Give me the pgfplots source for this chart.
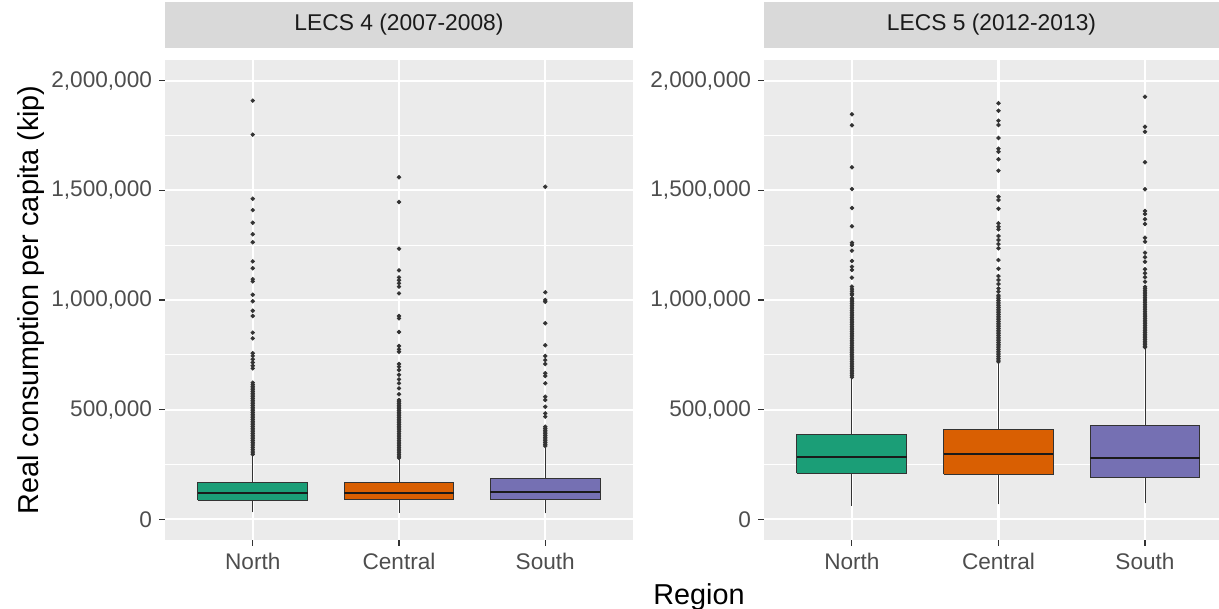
\documentclass[border=0pt]{standalone}
\usepackage{pgfplots}
\pgfplotsset{compat=1.18}
\usepackage{fontspec}
\setmainfont{Liberation Sans}

\definecolor{panelgray}{HTML}{EBEBEB}
\definecolor{stripgray}{HTML}{D9D9D9}
\definecolor{grey10}{HTML}{1A1A1A}
\definecolor{grey20}{HTML}{333333}
\definecolor{grey30}{HTML}{4D4D4D}
\definecolor{dgreen}{HTML}{1B9E77}
\definecolor{dorange}{HTML}{D95F02}
\definecolor{dpurple}{HTML}{7570B3}

% values are in thousands of kip; boxes are 0.75 wide around 1, 2, 3
\pgfplotsset{
  facet/.style={
    scale only axis,
    height=240pt,
    ymin=-94.4, ymax=2094.4,
    xmin=0.4,
    xtick={1,2,3},
    xticklabels={North,Central,South},
    ytick={0,500,1000,1500,2000},
    yticklabels={0,{500,000},{1,000,000},{1,500,000},{2,000,000}},
    minor ytick={250,750,1250,1750},
    ticklabel style={font=\fontsize{11.3}{13}\selectfont, text=grey30},
    axis background/.style={fill=panelgray},
    axis line style={draw=none},
    tickpos=left,
    tick align=outside,
    major tick length=3pt,
    minor tick style={draw=none},
    major tick style={draw=grey20, line width=0.55pt},
    xmajorgrids, ymajorgrids, yminorgrids,
    major grid style={white, line width=1.1pt},
    minor grid style={white, line width=0.55pt},
    title style={at={(0.5,1)}, anchor=south, yshift=0pt, fill=stripgray,
      minimum height=23pt, inner sep=0pt, text=grey10,
      font=\fontsize{11.4}{13}\selectfont},
  },
  box/.style={draw=grey20, line width=0.5pt, fill=#1, mark=none},
  whisk/.style={draw=grey20, line width=0.5pt, mark=none},
  med/.style={draw=grey10, line width=1.1pt, mark=none},
  outl/.style={only marks, mark=*, mark size=0.95pt,
    mark options={draw=grey20, fill=grey20, line width=0.3pt}},
}

\begin{document}
\begin{tikzpicture}
\path[use as bounding box] (0,0) rectangle (609.5pt,304.5pt);

% ---------------- LECS 4 ----------------
\begin{axis}[facet, at={(82.5pt,34.5pt)}, anchor=south west,
  width=234pt, xmax=3.6,
  title={LECS 4 (2007-2008)}, title style={minimum width=234pt}]

% North
\addplot[whisk] coordinates {(1,31.9) (1,86.6)};
\addplot[whisk] coordinates {(1,170.0) (1,293.2)};
\addplot[box=dgreen] coordinates {(0.625,86.6) (1.375,86.6) (1.375,170.0) (0.625,170.0) (0.625,86.6)};
\addplot[med] coordinates {(0.625,121.3) (1.375,121.3)};
% Central
\addplot[whisk] coordinates {(2,30.1) (2,89.4)};
\addplot[whisk] coordinates {(2,166.9) (2,275.0)};
\addplot[box=dorange] coordinates {(1.625,89.4) (2.375,89.4) (2.375,166.9) (1.625,166.9) (1.625,89.4)};
\addplot[med] coordinates {(1.625,121.3) (2.375,121.3)};
% South
\addplot[whisk] coordinates {(3,27.4) (3,91.2)};
\addplot[whisk] coordinates {(3,187.0) (3,323.7)};
\addplot[box=dpurple] coordinates {(2.625,91.2) (3.375,91.2) (3.375,187.0) (2.625,187.0) (2.625,91.2)};
\addplot[med] coordinates {(2.625,125.9) (3.375,125.9)};

% outliers, North
\addplot[outl] table[x expr=1, y index=0] {
v
1909
1754
1462
1410
1352
1300
1263
1176
1145
1095
1085
1024
994
951
927
851
825
757
745
730
715
700
688
623
615
607
599
591
583
575
567
559
551
543
535
527
519
511
503
495
487
479
471
463
455
447
439
431
423
415
407
399
391
383
375
367
359
351
343
335
327
319
311
303
296
};
% outliers, Central
\addplot[outl] table[x expr=2, y index=0] {
v
1559.5
1447
1234
1135
1103
1090
1076
1061
1030
927
916
854
790
775
764
708
696
681
659
638
620
597
570
544
536
528
520
512
504
496
488
480
472
464
456
448
440
432
424
416
408
400
392
384
376
368
360
352
344
336
328
320
312
304
296
288
280
};
% outliers, South
\addplot[outl] table[x expr=3, y index=0] {
v
1516.7
1035
1000
992
893.7
793.4
744.6
726
708
665.8
653.5
620
559
544
513.5
483
468
422
414
406
398
390
382
374
366
358
350
342
334
};
\end{axis}

% ---------------- LECS 5 ----------------
\begin{axis}[facet, at={(382pt,34.5pt)}, anchor=south west,
  width=227.5pt, xmax=3.505,
  title={LECS 5 (2012-2013)}, title style={minimum width=227.5pt}]

% North
\addplot[whisk] coordinates {(1,62.0) (1,209.8)};
\addplot[whisk] coordinates {(1,385.8) (1,643.0)};
\addplot[box=dgreen] coordinates {(0.625,209.8) (1.375,209.8) (1.375,385.8) (0.625,385.8) (0.625,209.8)};
\addplot[med] coordinates {(0.625,285.5) (1.375,285.5)};
% Central
\addplot[whisk] coordinates {(2,68.4) (2,206.5)};
\addplot[whisk] coordinates {(2,411.7) (2,714.0)};
\addplot[box=dorange] coordinates {(1.625,206.5) (2.375,206.5) (2.375,411.7) (1.625,411.7) (1.625,206.5)};
\addplot[med] coordinates {(1.625,296.4) (2.375,296.4)};
% South
\addplot[whisk] coordinates {(3,73.0) (3,189.7)};
\addplot[whisk] coordinates {(3,428.6) (3,779.7)};
\addplot[box=dpurple] coordinates {(2.625,189.7) (3.375,189.7) (3.375,428.6) (2.625,428.6) (2.625,189.7)};
\addplot[med] coordinates {(2.625,278.2) (3.375,278.2)};

% outliers, North
\addplot[outl] table[x expr=1, y index=0] {
v
1846.8
1796.6
1605
1506
1419.5
1336
1261
1251
1225
1178
1152
1137
1102
1061
1050
1040
1030
1023
1008
1000
992
984
976
968
960
952
944
936
928
920
912
904
896
888
880
872
864
856
848
840
832
824
816
808
800
792
784
776
768
760
752
744
736
728
720
712
704
696
688
680
672
664
656
648
};
% outliers, Central
\addplot[outl] table[x expr=2, y index=0] {
v
1897
1863
1817.6
1798
1738.7
1690
1676
1641.6
1589.6
1471
1456
1416
1349.7
1334
1322
1291.8
1273.6
1255
1235.8
1182
1142.7
1109
1091
1073
1053
1038
1022
1014
1006
998
990
982
974
966
958
950
942
934
926
918
910
902
894
886
878
870
862
854
846
838
830
822
814
806
798
790
782
774
766
758
750
742
734
726
718
};
% outliers, South
\addplot[outl] table[x expr=3, y index=0] {
v
1927
1790
1767
1628
1504.8
1405.8
1392
1368
1346.6
1284
1266
1215.7
1194.7
1174.6
1140
1121.8
1103.5
1083.5
1060
1052
1044
1036
1028
1020
1012
1004
996
988
980
972
964
956
948
940
932
924
916
908
900
892
884
876
868
860
852
844
836
828
820
812
804
796
788
784
};
\end{axis}

% shared axis titles
\node[rotate=90, anchor=base, font=\fontsize{14.4}{17}\selectfont]
  at (19pt,154.5pt) {Real consumption per capita (kip)};
\node[anchor=base, font=\fontsize{14.4}{17}\selectfont]
  at (349.5pt,2pt) {Region};
\end{tikzpicture}
\end{document}
